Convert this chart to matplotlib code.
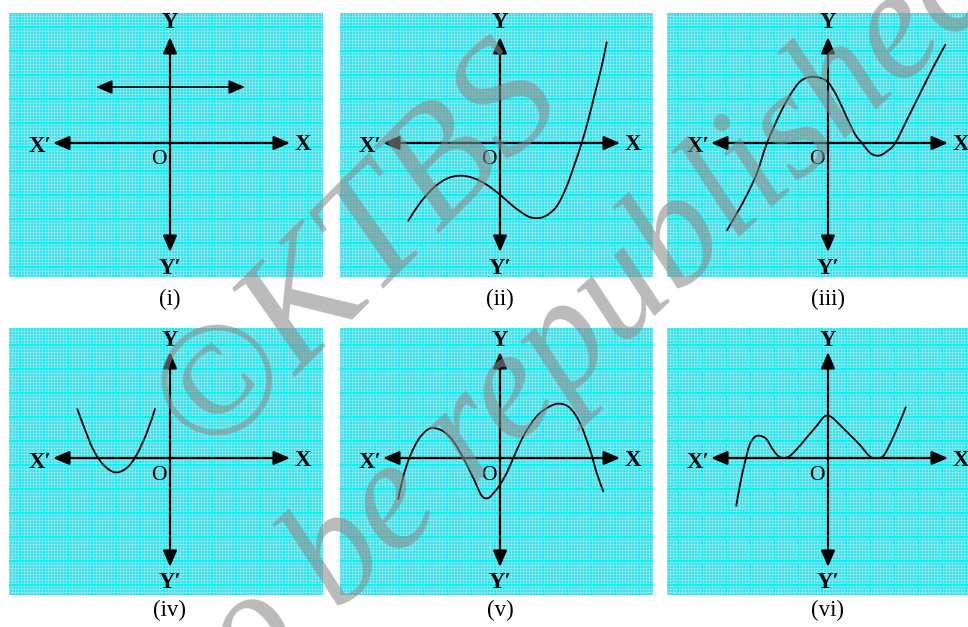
import numpy as np
import matplotlib.pyplot as plt
from matplotlib.path import Path
from matplotlib.patches import PathPatch

W, H = 968, 627
plt.rcParams['font.family'] = ['Liberation Serif', 'DejaVu Serif']

# panel boxes in pixels: left, right, top, bottom, origin x, origin y
panel_boxes = [
    (9, 323, 13, 277, 170, 143),
    (340, 653, 13, 277, 500, 143),
    (667, 968, 13, 277, 828, 143),
    (9, 323, 328, 595, 170, 458),
    (340, 653, 328, 595, 500, 458),
    (667, 968, 328, 595, 828, 458),
]
captions = ['(i)', '(ii)', '(iii)', '(iv)', '(v)', '(vi)']

# curve points (1 unit = 10 px, origin at O)
line_i_x = [-7.4, 7.5]
line_i_y = [5.6, 5.6]

curve_ii_x = [-9.17, -8.0, -6.67, -5.33, -4.0, -2.67, -1.33, 0.0, 1.33, 2.67, 3.5,
              4.5, 5.67, 6.67, 7.5, 8.17, 8.83, 9.5, 10.17, 10.67]
curve_ii_y = [-7.77, -6.0, -4.5, -3.57, -3.27, -3.5, -4.17, -5.17, -6.33, -7.27, -7.5,
              -7.33, -6.33, -4.33, -2.0, 0.0, 2.33, 5.0, 7.67, 10.07]

curve_iii_x = [-10.1, -9.1, -8.1, -7.1, -6.1, -4.77, -3.77, -2.77, -1.77, -0.77, 0.0,
               0.9, 1.9, 2.73, 3.4, 4.23, 5.07, 5.9, 6.73, 7.9, 9.23, 10.57, 11.73]
curve_iii_y = [-8.73, -7.0, -5.17, -3.0, 0.0, 3.0, 4.83, 6.17, 6.6, 6.5, 6.07,
               4.67, 2.5, 0.83, 0.0, -1.0, -1.27, -0.83, 0.0, 2.33, 5.0, 7.67, 9.83]

curve_iv_x = [-9.27, -8.5, -7.67, -6.67, -5.5, -4.33, -3.33, -2.33, -1.5]
curve_iv_y = [4.9, 2.83, 0.83, -0.67, -1.43, -1.0, 0.33, 2.5, 4.9]

curve_v_x = [-10.17, -9.67, -9.0, -8.17, -7.33, -6.67, -5.67, -4.67, -3.67, -2.67, -1.83,
             -1.17, -0.5, 0.0, 0.67, 1.33, 2.33, 3.67, 5.0, 6.0, 7.0, 8.0, 9.0, 9.67, 10.33]
curve_v_y = [-4.1, -1.83, 0.17, 1.83, 2.77, 3.0, 2.67, 1.67, 0.0, -2.0, -3.77,
             -4.0, -3.33, -2.67, -1.5, 0.0, 2.17, 4.17, 5.17, 5.43, 5.0, 3.5, 0.83, -1.5, -3.33]

curve_vi_x = [-9.17, -8.83, -8.33, -7.83, -7.33, -6.83, -6.17, -5.5, -4.83, -4.0, -3.17,
              -2.17, -1.17, -0.33, 0.33, 1.17, 2.17, 3.17, 4.17, 4.83, 5.5, 6.17, 7.0, 7.77]
curve_vi_y = [-4.77, -2.83, -0.5, 1.33, 2.1, 2.23, 1.9, 0.83, 0.1, 0.1, 0.83,
              2.0, 3.17, 4.17, 4.1, 3.33, 2.33, 1.33, 0.17, 0.0, 0.17, 1.33, 3.17, 5.07]

curves = [None,
          (curve_ii_x, curve_ii_y),
          (curve_iii_x, curve_iii_y),
          (curve_iv_x, curve_iv_y),
          (curve_v_x, curve_v_y),
          (curve_vi_x, curve_vi_y)]

fig = plt.figure(figsize=(W / 100, H / 100), dpi=100)
fig.patch.set_facecolor('white')


def arrow(ax, p0, p1, lw=1.6):
    ax.annotate('', xy=p1, xytext=p0,
                arrowprops=dict(arrowstyle='<|-|>,head_length=0.7,head_width=0.3',
                                color='black', lw=lw, shrinkA=0, shrinkB=0,
                                mutation_scale=14))


def smooth_path(xs, ys):
    # Catmull-Rom through the read points, drawn as cubic Bezier pieces
    p = np.column_stack([xs, ys])
    n = len(p)
    verts = [p[0]]
    codes = [Path.MOVETO]
    for i in range(n - 1):
        a = p[max(i - 1, 0)]
        b = p[i]
        c = p[i + 1]
        d = p[min(i + 2, n - 1)]
        verts += [b + (c - a) / 6, c - (d - b) / 6, c]
        codes += [Path.CURVE4] * 3
    return Path(verts, codes)


for k, (x0, x1, y0, y1, ox, oy) in enumerate(panel_boxes):
    ax = fig.add_axes([x0 / W, 1 - y1 / H, (x1 - x0) / W, (y1 - y0) / H])
    xmin, xmax = (x0 - ox) / 10, (x1 - ox) / 10
    ymin, ymax = (oy - y1) / 10, (oy - y0) / 10
    ax.set_xlim(xmin, xmax)
    ax.set_ylim(ymin, ymax)
    ax.set_facecolor('#42dfea')
    ax.set_axisbelow(True)
    # graph paper
    ax.set_xticks(np.arange(xmin, xmax, 0.3), minor=True)
    ax.set_yticks(np.arange(ymin, ymax, 0.3), minor=True)
    ax.set_xticks(np.arange(xmin + 1.0, xmax, 2.4))
    ax.set_yticks(np.arange(ymin + 1.0, ymax, 2.4))
    ax.grid(which='minor', color='#a6f0f3', lw=0.5, alpha=0.8)
    ax.grid(which='major', color='#08f2f5', lw=2.0)
    ax.tick_params(which='both', length=0, labelbottom=False, labelleft=False)
    for s in ax.spines.values():
        s.set_visible(False)

    # axes with arrows
    arrow(ax, (-11.7, 0), (12.0, 0))
    arrow(ax, (0, -10.9), (0, 10.6))
    ty = 12.1 if k < 3 else 11.7
    by = -12.5 if k < 3 else -12.4
    lab = dict(ha='center', va='center', fontsize=16.5, fontweight='bold', clip_on=False)
    ax.text(0, ty, 'Y', **lab)
    ax.text(0, by, 'Y\u2032', **lab)
    ax.text(-13.0, -0.4, 'X\u2032', **lab)
    ax.text(13.3, -0.2, 'X', **lab)
    ax.text(-1.1, -1.7, 'O', ha='center', va='center', fontsize=15.5)

    if k == 0:
        arrow(ax, (line_i_x[0], line_i_y[0]), (line_i_x[1], line_i_y[1]), lw=1.2)
    else:
        cx, cy = curves[k]
        ax.add_patch(PathPatch(smooth_path(cx, cy), facecolor='none', edgecolor='black',
                               lw=1.3, capstyle='round', joinstyle='round', zorder=4))

    cap_y = 299 if k < 3 else 610
    fig.text(ox / W, 1 - cap_y / H, captions[k], ha='center', va='center', fontsize=16.5)

# watermark
fig.text(358 / W, 1 - 250 / H, '\u00a9KTBS', rotation=45, fontsize=118, style='italic',
         color='#8c8c8c', alpha=0.6, ha='center', va='center', rotation_mode='anchor', zorder=10)
fig.text(491 / W, 1 - 418 / H, 'Not to be republished', rotation=43, fontsize=112, style='italic',
         color='#8c8c8c', alpha=0.6, ha='center', va='center', rotation_mode='anchor', zorder=10)

fig.savefig('out.png', dpi=100, facecolor='white')
